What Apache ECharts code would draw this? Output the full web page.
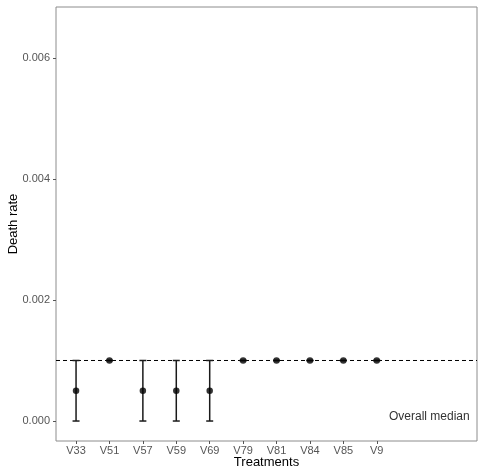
<!DOCTYPE html>
<html>
<head>
<meta charset="utf-8">
<script src="https://cdn.jsdelivr.net/npm/echarts@6/dist/echarts.min.js"></script>
<style>html,body{margin:0;padding:0;background:#fff;}#c{width:480px;height:470px;}</style>
</head>
<body>
<div id="c"></div>
<script>
var categories = ['V33','V51','V57','V59','V69','V79','V81','V84','V85','V9'];
var means = [0.0005, 0.001, 0.0005, 0.0005, 0.0005, 0.001, 0.001, 0.001, 0.001, 0.001];
var lower = [0, 0.001, 0, 0, 0, 0.001, 0.001, 0.001, 0.001, 0.001];
var upper = [0.001, 0.001, 0.001, 0.001, 0.001, 0.001, 0.001, 0.001, 0.001, 0.001];
var overallMedian = 0.001;
var yTicks = [0, 0.002, 0.004, 0.006];
var xRange = [-0.6, 12.0];
var yRange = [-0.00033, 0.00684];
var annotation = {text: 'Overall median', x: 11.78, y: 0.00007};

var idx = categories.map(function(_, i){ return i; });
var points = means.map(function(m, i){ return [i, m]; });
var bars = lower.map(function(l, i){ return [i, l, upper[i]]; });
var medianLine = [[xRange[0], overallMedian], [xRange[1], overallMedian]];

var chart = echarts.init(document.getElementById('c'), null, {renderer: 'canvas'});
var font = 'Liberation Sans, Arial, sans-serif';
chart.setOption({
  animation: false,
  backgroundColor: '#fff',
  grid: {left: 56, right: 3, top: 7, bottom: 29, show: true, borderColor: '#8c8c8c', borderWidth: 1, backgroundColor: '#fff', containLabel: false, outerBoundsMode: 'none'},
  xAxis: {
    type: 'value', min: xRange[0], max: xRange[1],
    name: 'Treatments', nameLocation: 'middle', nameGap: 15, nameMoveOverlap: false,
    nameTextStyle: {color: '#000', fontSize: 13, fontFamily: font},
    axisLine: {show: false, onZero: false},
    splitLine: {show: false},
    axisTick: {show: true, length: 3, customValues: idx, lineStyle: {color: '#555'}},
    axisLabel: {customValues: idx, margin: 4, color: '#555', fontSize: 11, fontFamily: font,
      formatter: function(v){ return categories[Math.round(v)] || ''; }}
  },
  yAxis: {
    type: 'value', min: yRange[0], max: yRange[1],
    name: 'Death rate', nameLocation: 'middle', nameGap: 36, nameMoveOverlap: false,
    nameTextStyle: {color: '#000', fontSize: 13, fontFamily: font},
    axisLine: {show: false, onZero: false},
    splitLine: {show: false},
    axisTick: {show: true, length: 3, customValues: yTicks, lineStyle: {color: '#555'}},
    axisLabel: {customValues: yTicks, margin: 6, color: '#555', fontSize: 11, fontFamily: font,
      formatter: function(v){ return v.toFixed(3); }}
  },
  series: [
    {
      type: 'line',
      data: medianLine,
      symbol: 'none',
      silent: true,
      lineStyle: {color: '#000', type: [4, 3], width: 1},
      z: 2
    },
    {
      type: 'custom',
      data: bars,
      renderItem: function(params, api){
        var x = api.value(0);
        var lo = api.coord([x, api.value(1)]);
        var hi = api.coord([x, api.value(2)]);
        var w = 3.5;
        var st = {stroke: '#1a1a1a', lineWidth: 1.5};
        return {type: 'group', children: [
          {type: 'line', shape: {x1: lo[0], y1: lo[1], x2: hi[0], y2: hi[1]}, style: st},
          {type: 'line', shape: {x1: lo[0]-w, y1: lo[1], x2: lo[0]+w, y2: lo[1]}, style: st},
          {type: 'line', shape: {x1: hi[0]-w, y1: hi[1], x2: hi[0]+w, y2: hi[1]}, style: st}
        ]};
      },
      z: 3
    },
    {
      type: 'scatter',
      data: points,
      symbolSize: 6.5,
      itemStyle: {color: '#000'},
      z: 4
    },
    {
      type: 'custom',
      data: [[annotation.x, annotation.y]],
      renderItem: function(params, api){
        var p = api.coord([api.value(0), api.value(1)]);
        return {type: 'text', x: p[0], y: p[1], style: {text: annotation.text, textAlign: 'right', textVerticalAlign: 'middle', fill: '#333', fontSize: 12, fontFamily: font}};
      }
    }
  ]
});
</script>
</body>
</html>
